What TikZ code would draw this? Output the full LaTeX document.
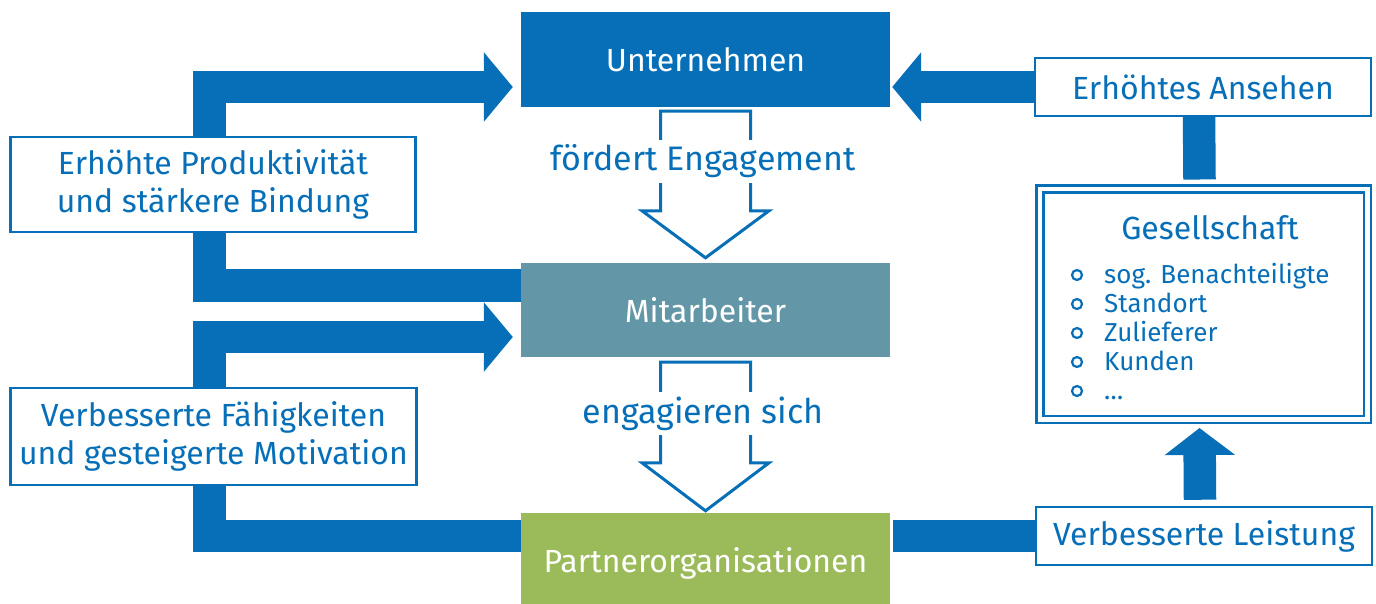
\documentclass[tikz,border=0pt]{standalone}
\usepackage{fontspec}
\setmainfont{Fira Sans}
\usetikzlibrary{arrows.meta,calc}
\definecolor{brandblue}{RGB}{7,111,184}
\definecolor{staffteal}{RGB}{99,151,167}
\definecolor{partnergreen}{RGB}{155,186,90}
\pgfdeclarelayer{bg}
\pgfsetlayers{bg,main}

\begin{document}
\begin{tikzpicture}[x=1pt,y=-1pt,
  solidbox/.style={minimum width=369pt, inner sep=0pt, text=white,
    font=\fontsize{32}{38}\selectfont},
  notebox/.style={draw=brandblue, line width=2.5pt, fill=white, text=brandblue,
    align=center, inner sep=0pt, font=\fontsize{32}{38}\selectfont},
  band/.style={draw=brandblue, line width=32.5pt, line join=miter},
  bigtip/.style={-{Triangle[width=68pt,length=29pt]}},
  hollow/.style={draw=brandblue, line width=3pt, fill=white, line join=miter},
  flowlabel/.style={fill=white, text=brandblue, inner xsep=4pt, inner ysep=0pt,
    minimum height=43pt, font=\fontsize{34}{40}\selectfont},
  listitem/.style={anchor=base west, text=brandblue, inner sep=0pt,
    font=\fontsize{26}{30}\selectfont},
  bullet/.style={circle, draw=brandblue, line width=2.2pt, minimum size=10pt, inner sep=0pt}
]
\useasboundingbox (0,0) rectangle (1376,603);
\clip (0,0) rectangle (1376,603);

% central chain
\node[solidbox, fill=brandblue, minimum height=95pt] (unt) at (705.5,59.5) {Unternehmen};
\node[solidbox, fill=staffteal, minimum height=94pt] (mit) at (705.5,310) {Mitarbeiter};
\node[solidbox, fill=partnergreen, minimum height=100pt] (par) at (705.5,563) {Partnerorganisationen};

% outcome boxes
\node[notebox, minimum width=405pt, minimum height=95pt] (prod) at (213,184.5)
  {Erhöhte Produktivität\\und stärkere Bindung};
\node[notebox, minimum width=406pt, minimum height=97pt] (skill) at (213.5,436.5)
  {Verbesserte Fähigkeiten\\und gesteigerte Motivation};
\node[notebox, minimum width=336pt, minimum height=58pt] (ans) at (1203,87) {Erhöhtes Ansehen};
\node[notebox, minimum width=336pt, minimum height=58pt] (leis) at (1204,536) {Verbesserte Leistung};

% society box with its list
\node[draw=brandblue, line width=2.5pt, double=white, double distance=4.5pt, fill=white,
  minimum width=327.5pt, minimum height=230.5pt, inner sep=0pt] (ges) at (1203.5,304) {};
\node[text=brandblue, inner sep=0pt, font=\fontsize{32}{36}\selectfont] (gestitle) at (1210,228) {Gesellschaft};
\node[bullet] (dot1) at (1077,275) {};
\node[bullet] (dot2) at (1077,304) {};
\node[bullet] (dot3) at (1077,333) {};
\node[bullet] (dot4) at (1077,362) {};
\node[bullet] (dot5) at (1077,391) {};
\node[listitem] (item1) at (1104,283) {sog. Benachteiligte};
\node[listitem] (item2) at (1104,312) {Standort};
\node[listitem] (item3) at (1104,341) {Zulieferer};
\node[listitem] (item4) at (1104,370) {Kunden};
\node[listitem] (item5) at (1104,399) {\ldots};

% hollow arrows down the chain
\coordinate (h1s) at ([yshift=-4pt]unt.south);
\coordinate (h1e) at ([yshift=5pt]mit.north);
\draw[hollow] ($(h1s)+(-45,0)$) -- ($(h1s)+(45,0)$) -- ($(h1e)+(45,-47)$) -- ($(h1e)+(63.5,-47)$)
  -- (h1e) -- ($(h1e)+(-63.5,-47)$) -- ($(h1e)+(-45,-47)$) -- cycle;
\node[flowlabel] (lbl1) at (703,161) {fördert Engagement};

\coordinate (h2s) at ([yshift=-5pt]mit.south);
\coordinate (h2e) at ([yshift=2pt]par.north);
\draw[hollow] ($(h2s)+(-45,0)$) -- ($(h2s)+(45,0)$) -- ($(h2e)+(45,-48)$) -- ($(h2e)+(63.5,-48)$)
  -- (h2e) -- ($(h2e)+(-63.5,-48)$) -- ($(h2e)+(-45,-48)$) -- cycle;
\node[flowlabel] (lbl2) at (703,413.5) {engagieren sich};

% thick feedback bands behind the boxes
\begin{pgfonlayer}{bg}
\coordinate (lane) at (209.5,0);
\coordinate (p0) at ([yshift=24.5pt]mit.west);
\coordinate (p1) at ([xshift=-8pt,yshift=-27.5pt]unt.west);
\draw[band,bigtip] (p0) -- (p0 -| lane) -- (p1 -| lane) -- (p1);

\coordinate (q0) at ([yshift=27pt]par.west);
\coordinate (q1) at ([xshift=-8pt,yshift=-27pt]mit.west);
\draw[band,bigtip] (q0) -- (q0 -| lane) -- (q1 -| lane) -- (q1);

\coordinate (r1) at ([xshift=2pt,yshift=-27.5pt]unt.east);
\draw[band,bigtip] ([xshift=6pt]ans.west) -- (r1);

\draw[band] ([xshift=-4pt,yshift=6pt]ans.south) -- ([xshift=-4pt,yshift=8pt]ges.north);
\draw[band,-{Triangle[width=69pt,length=27pt]}]
  ([xshift=-4pt,yshift=6pt]leis.north) -- ([xshift=-4pt,yshift=-7.5pt]ges.south);
\draw[band] ([xshift=3pt,yshift=27pt]par.east) -- ([xshift=6pt]leis.west);
\end{pgfonlayer}
\end{tikzpicture}
\end{document}
